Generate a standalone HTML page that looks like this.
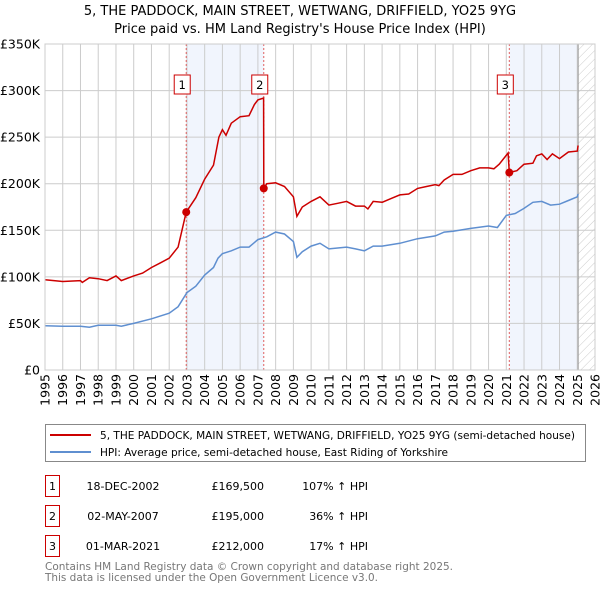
<!DOCTYPE html>
<html><head><meta charset="utf-8"><style>
body{margin:0;background:#fff;font-family:"Liberation Sans","DejaVu Sans",sans-serif;}
svg text{font-family:"DejaVu Sans","Liberation Sans",sans-serif;}
</style></head><body>
<svg id="chart" width="600" height="590" xmlns="http://www.w3.org/2000/svg">
<defs><pattern id="hatch" width="6" height="6" patternUnits="userSpaceOnUse" patternTransform="rotate(45)"><line x1="0" y1="0" x2="0" y2="6" stroke="#ccc" stroke-width="1"/></pattern></defs>
<text x="300" y="15" text-anchor="middle" font-size="13">5, THE PADDOCK, MAIN STREET, WETWANG, DRIFFIELD, YO25 9YG</text>
<text x="300" y="33" text-anchor="middle" font-size="13">Price paid vs. HM Land Registry's House Price Index (HPI)</text>
<g id="plot"></g>
<rect x="45.5" y="424.5" width="540" height="37" fill="#fff" stroke="#888"/>
<line x1="50" y1="435" x2="91" y2="435" stroke="#cc0000" stroke-width="2"/>
<text x="100" y="439" font-size="11" textLength="475" lengthAdjust="spacingAndGlyphs">5, THE PADDOCK, MAIN STREET, WETWANG, DRIFFIELD, YO25 9YG (semi-detached house)</text>
<line x1="50" y1="452" x2="91" y2="452" stroke="#5f8fd0" stroke-width="2"/>
<text x="100" y="456" font-size="11" textLength="348" lengthAdjust="spacingAndGlyphs">HPI: Average price, semi-detached house, East Riding of Yorkshire</text>
<g font-size="11">
<rect x="45.5" y="475.5" width="14" height="21" fill="none" stroke="#cc0000"/><text x="52.5" y="490" text-anchor="middle">1</text>
<text x="123" y="490" text-anchor="middle">18-DEC-2002</text><text x="264" y="490" text-anchor="end">£169,500</text><text x="368" y="490" text-anchor="end">107% ↑ HPI</text>
<rect x="45.5" y="505.5" width="14" height="21" fill="none" stroke="#cc0000"/><text x="52.5" y="520" text-anchor="middle">2</text>
<text x="123" y="520" text-anchor="middle">02-MAY-2007</text><text x="264" y="520" text-anchor="end">£195,000</text><text x="368" y="520" text-anchor="end">36% ↑ HPI</text>
<rect x="45.5" y="535.5" width="14" height="21" fill="none" stroke="#cc0000"/><text x="52.5" y="550" text-anchor="middle">3</text>
<text x="123" y="550" text-anchor="middle">01-MAR-2021</text><text x="264" y="550" text-anchor="end">£212,000</text><text x="368" y="550" text-anchor="end">17% ↑ HPI</text>
</g>
<text x="45" y="570" font-size="11" fill="#777" textLength="408" lengthAdjust="spacingAndGlyphs">Contains HM Land Registry data © Crown copyright and database right 2025.</text>
<text x="45" y="581" font-size="11" fill="#777" textLength="333" lengthAdjust="spacingAndGlyphs">This data is licensed under the Open Government Licence v3.0.</text>
</svg>
<script>
const hpiYears=[1995,1996,1997,1997.5,1998,1999,1999.3,2000,2001,2002,2002.5,2003,2003.5,2004,2004.5,2004.75,2005,2005.5,2006,2006.5,2007,2007.5,2008,2008.5,2009,2009.2,2009.5,2010,2010.5,2011,2012,2012.5,2013,2013.5,2014,2015,2016,2017,2017.5,2018,2019,2020,2020.5,2021,2021.5,2022,2022.5,2023,2023.5,2024,2024.5,2025,2025.05];
const hpiValues=[47.5,47,47,46,48,48,47,50,55,61,68,83,90,102,110,120,125,128,132,132,140,143,148,146,138,121,127,133,136,130,132,130,128,133,133,136,141,144,148,149,152,154.6,153,166,168,173.5,180,181,177,178,182,186,189];
const priceYears=[1995,1996,1997,1997.1,1997.5,1998,1998.5,1999,1999.3,2000,2000.5,2001,2001.5,2002,2002.5,2002.96,2003.5,2004,2004.5,2004.8,2005,2005.2,2005.5,2006,2006.5,2006.8,2007,2007.32,2007.33,2007.5,2008,2008.5,2009,2009.2,2009.5,2010,2010.5,2011,2011.5,2012,2012.5,2013,2013.2,2013.5,2014,2014.5,2015,2015.5,2016,2016.5,2017,2017.2,2017.5,2018,2018.5,2019,2019.5,2020,2020.3,2020.6,2021.1,2021.17,2021.6,2022,2022.5,2022.7,2023,2023.3,2023.6,2024,2024.5,2025,2025.05];
const priceValues=[97,95,96,94,99,98,96,101,96,101,104,110,115,120,132,169.5,185,205,220,250,258,252,265,272,273,285,290,292,195,200,201,197,186,165,175,181,186,177,179,181,176,176,173,181,180,184,188,189,195,197,199,198,204,210,210,214,217,217,216,221,233,212,214,221,222,230,232,226,232,227,234,235,241];
const saleYears=[2002.96,2007.33,2021.17];
const saleValues=[169.5,195,212];
const saleLabels=["1","2","3"];
const yTicks=[0,50,100,150,200,250,300,350];
const yTickLabels=["£0","£50K","£100K","£150K","£200K","£250K","£300K","£350K"];
const xTicks=[1995,1996,1997,1998,1999,2000,2001,2002,2003,2004,2005,2006,2007,2008,2009,2010,2011,2012,2013,2014,2015,2016,2017,2018,2019,2020,2021,2022,2023,2024,2025,2026];

const X0=45,X1=595,Y0=370,Y1=44;
const xs=y=>X0+(y-1995)/(2026-1995)*(X1-X0);
const ys=v=>Y0-v/350*(Y0-Y1);
const NS="http://www.w3.org/2000/svg";
const g=document.getElementById('plot');
function mk(t,a){const e=document.createElementNS(NS,t);for(const k in a)e.setAttribute(k,a[k]);g.appendChild(e);return e;}
let e;
e=mk('rect',{x:xs(saleYears[0]),y:Y1,width:xs(saleYears[1])-xs(saleYears[0]),height:Y0-Y1,fill:'#eef3fc',opacity:0.8});


e=mk('rect',{x:xs(saleYears[2]),y:Y1,width:xs(2025.05)-xs(saleYears[2]),height:Y0-Y1,fill:'#eef3fc',opacity:0.8});


e=mk('rect',{x:xs(2025.05),y:Y1,width:X1-xs(2025.05),height:Y0-Y1,fill:'url(#hatch)'});


xTicks.forEach((t,i)=>{
  e=mk('line',{x1:xs(t),x2:xs(t),y1:Y1,y2:Y0,stroke:'#ccc','stroke-width':1});
  
  
  e=mk('text',{x:0,y:0,'font-size':12.5,'text-anchor':'end',transform:`translate(${xs(t)+4.5},374) rotate(-90)`});
  e.textContent=t;
  
  
});
yTicks.forEach((t,i)=>{
  e=mk('line',{x1:X0,x2:X1,y1:ys(t),y2:ys(t),stroke:'#ccc','stroke-width':1});
  
  
  e=mk('text',{x:40,y:ys(t)+4.5,'font-size':12.5,'text-anchor':'end'});
  e.textContent=yTickLabels[i];
  
  
});
e=mk('line',{x1:xs(2025.05),x2:xs(2025.05),y1:Y1,y2:Y0,stroke:'#999','stroke-width':1});


saleYears.forEach((s,i)=>{
  e=mk('line',{x1:xs(s),x2:xs(s),y1:Y1,y2:Y0,stroke:'#e06060','stroke-width':1,'stroke-dasharray':'2,2'});
  
  
});
const pts=(xa,va)=>xa.map((x,i)=>xs(x).toFixed(1)+','+ys(va[i]).toFixed(1)).join(' ');
e=mk('polyline',{points:pts(hpiYears,hpiValues),fill:'none',stroke:'#5f8fd0','stroke-width':1.5});


e=mk('polyline',{points:pts(priceYears,priceValues),fill:'none',stroke:'#cc0000','stroke-width':1.5});


saleYears.forEach((s,i)=>{
  e=mk('circle',{cx:xs(s),cy:ys(saleValues[i]),r:4,fill:'#cc0000'});
  
  
  const bx=xs(s)-6;
  e=mk('rect',{x:bx-6,y:75,width:16,height:19,fill:'#fff',stroke:'#cc0000'});
  
  
  e=mk('text',{x:bx+2,y:89,'font-size':11.5,'text-anchor':'middle'});
  e.textContent=saleLabels[i];
  
  
});
e=mk('rect',{x:X0,y:Y1,width:X1-X0,height:Y0-Y1,fill:'none',stroke:'#ccc'});


</script>
</body></html>
